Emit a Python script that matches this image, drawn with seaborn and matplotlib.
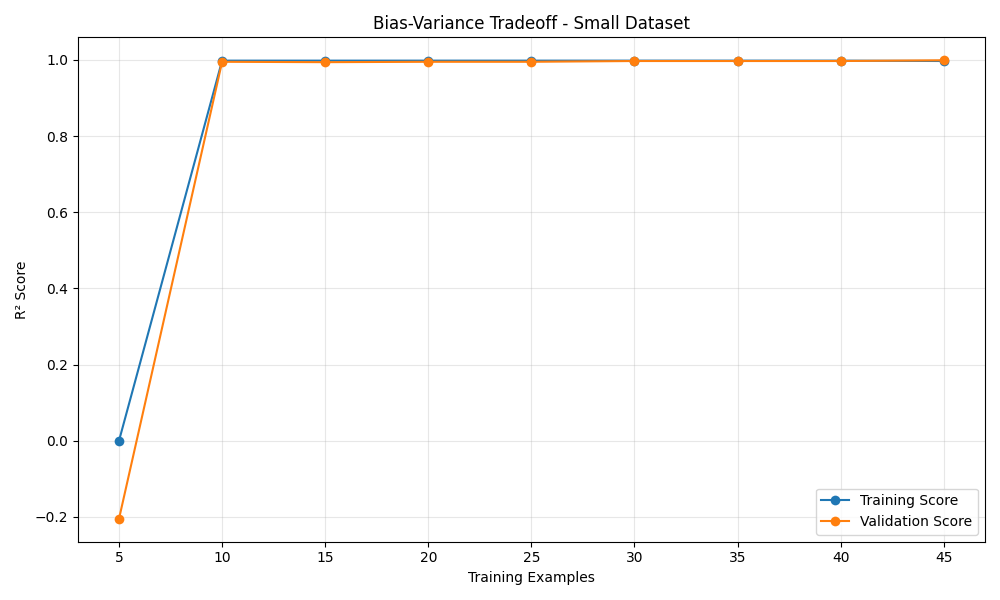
import matplotlib
matplotlib.use('Agg')
import matplotlib.pyplot as plt
import pandas as pd
import seaborn as sns

train_sizes = [5, 10, 15, 20, 25, 30, 35, 40, 45]
train_scores = [0.0, 0.998, 0.998, 0.998, 0.998, 0.998, 0.998, 0.998, 0.997]
val_scores = [-0.205, 0.995, 0.994, 0.995, 0.995, 0.997, 0.997, 0.997, 0.999]

df = pd.DataFrame({
    'Training Examples': train_sizes * 2,
    'R² Score': train_scores + val_scores,
    'Series': ['Training Score'] * len(train_sizes) + ['Validation Score'] * len(train_sizes),
})

plt.figure(figsize=(10, 6))
ax = sns.lineplot(data=df, x='Training Examples', y='R² Score', hue='Series',
                  palette=['#1f77b4', '#ff7f0e'], marker='o', markersize=7,
                  markeredgewidth=0, linewidth=1.5)
ax.set_title('Bias-Variance Tradeoff - Small Dataset')
ax.set_xlabel('Training Examples')
ax.set_ylabel('R² Score')
ax.grid(True, alpha=0.3)
ax.legend(title=None, loc='lower right')
plt.tight_layout()
plt.savefig('out.png', dpi=100)
